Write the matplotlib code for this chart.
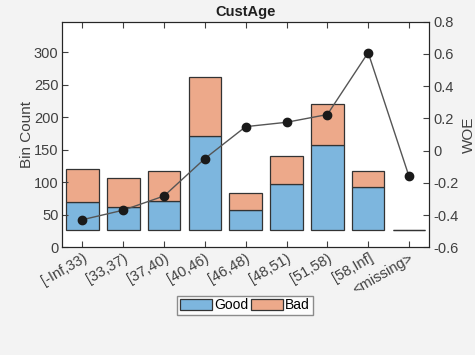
import matplotlib
matplotlib.use("Agg")
import matplotlib.pyplot as plt
import numpy as np

bins = ["[-Inf,33)", "[33,37)", "[37,40)", "[40,46)", "[46,48)",
        "[48,51)", "[51,58)", "[58,Inf]", "<missing>"]
good = [70, 62, 72, 171, 58, 98, 157, 93, 0]
bad = [50, 45, 46, 91, 25, 42, 63, 25, 0]
woe = [-0.428, -0.369, -0.281, -0.049, 0.149, 0.176, 0.224, 0.608, -0.159]
base = 27  # bars start here, as in the original

plt.rcParams['font.family'] = ['Liberation Sans', 'DejaVu Sans']

fig = plt.figure(figsize=(4.75, 3.55), dpi=100, facecolor='#f3f3f3')
ax = fig.add_axes([0.1305, 0.303, 0.7735, 0.636])
x = np.arange(1, len(bins) + 1)
g = np.array(good)
b = np.array(bad)
gh = np.where(g > 0, g - base, 0)

ax.bar(x, gh, bottom=base, width=0.8, color='#7db6de', edgecolor='#333333',
       linewidth=0.9, label='Good')
ax.bar(x, b, bottom=base + gh, width=0.8, color='#eda98a', edgecolor='#333333',
       linewidth=0.9, label='Bad')
ax.set_xlim(0.5, len(bins) + 0.5)
ax.set_ylim(0, 347)
ax.set_yticks(np.arange(0, 301, 50))
ax.set_xticks(x)
ax.set_xticklabels(bins, rotation=30, ha='right', rotation_mode='anchor')
ax.set_ylabel('Bin Count', fontsize=11, color='#404040', labelpad=0)
ax.set_title('CustAge', fontsize=10.5, fontweight='bold', color='#202020', pad=4)
ax.tick_params(direction='in', top=True, right=False, labelsize=10.5,
               colors='#404040', length=4, pad=2.5)

ax2 = ax.twinx()
ax2.plot(x, woe, '-o', color='#555555', lw=1, markersize=6,
         markerfacecolor='#1a1a1a', markeredgecolor='#1a1a1a')
ax2.set_ylim(-0.6, 0.8)
ax2.set_yticks(np.arange(-0.6, 0.81, 0.2))
ax2.set_yticklabels(['-0.6', '-0.4', '-0.2', '0', '0.2', '0.4', '0.6', '0.8'])
ax2.set_ylabel('WOE', fontsize=11, color='#404040', labelpad=2)
ax2.tick_params(direction='in', labelsize=10.5, colors='#404040', length=4, pad=3)

for a in (ax, ax2):
    for s in a.spines.values():
        s.set_color('#262626')
        s.set_linewidth(0.8)

leg = fig.legend(*ax.get_legend_handles_labels(), loc='center', ncol=2,
                 bbox_to_anchor=(0.516, 0.14), fontsize=10, frameon=True,
                 fancybox=False, handlelength=2.3, handleheight=0.8,
                 handletextpad=0.15, columnspacing=0.2, borderpad=0.2,
                 borderaxespad=0)
leg.get_frame().set_edgecolor('#707070')
leg.get_frame().set_linewidth(1)

fig.savefig('out.png', dpi=100, facecolor=fig.get_facecolor())
